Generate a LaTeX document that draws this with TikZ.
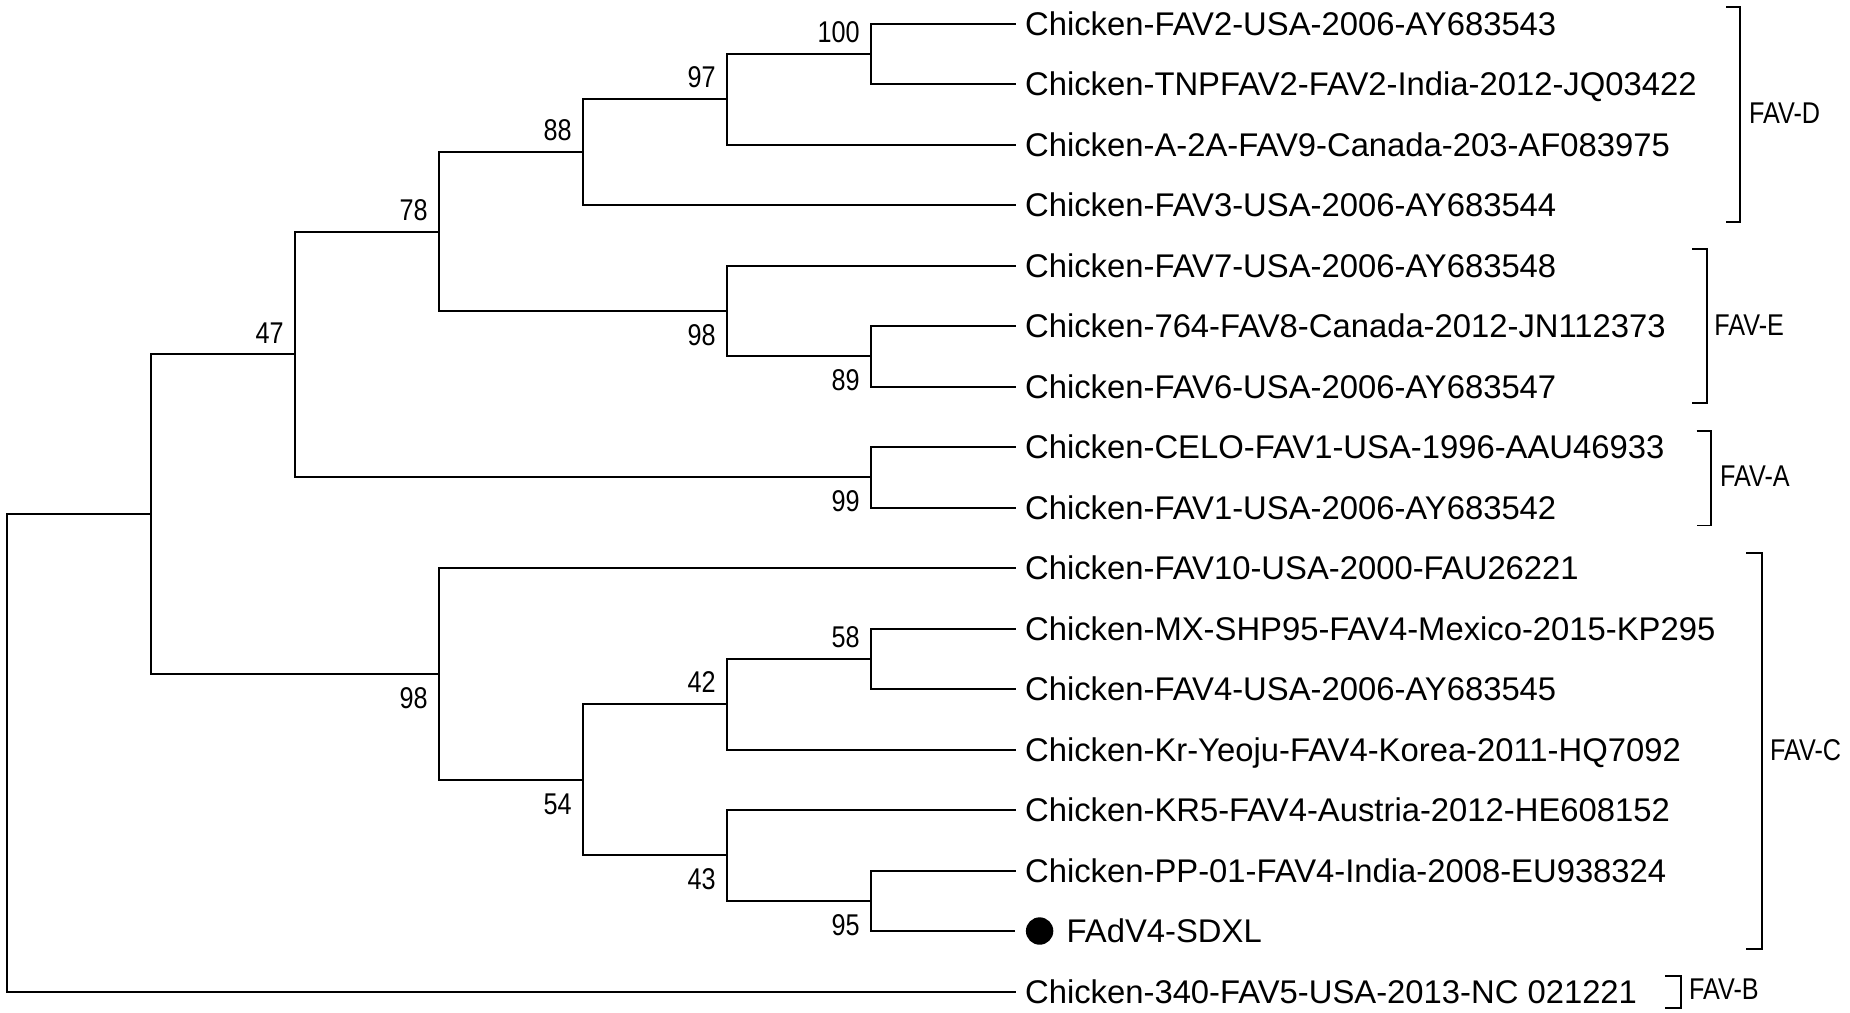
\documentclass[tikz,border=0pt]{standalone}
\usepackage{fontspec}
\setmainfont{Liberation Sans}
\newfontfamily\bootfont[FakeStretch=0.84]{Liberation Sans}
\usetikzlibrary{positioning}

\begin{document}
\begin{tikzpicture}[x=0.5pt, y=-0.5pt,
		branch/.style={line width=1pt},
		brack/.style={line width=0.9pt},
		taxon/.style={anchor=west, inner xsep=4.6pt, inner ysep=0pt, text height=11.7pt, text depth=0pt, font=\fontsize{16.4}{19}\selectfont},
		boot/.style={inner sep=0pt, text height=10.7pt, text depth=0pt, font=\bootfont\fontsize{15}{18}\selectfont},
		clade/.style={boot, anchor=west},
		dot/.style={circle, fill=black, inner sep=0pt, minimum size=13.7pt}]
	\useasboundingbox (0,0) rectangle (1850,1012);
	\fill[white] (0,0) rectangle (1850,1012);

	\node[taxon] (t1) at (1015.5,23.5) {Chicken-FAV2-USA-2006-AY683543};
	\node[taxon] (t2) at (1015.5,84) {Chicken-TNPFAV2-FAV2-India-2012-JQ03422};
	\node[taxon] (t3) at (1015.5,144.5) {Chicken-A-2A-FAV9-Canada-203-AF083975};
	\node[taxon] (t4) at (1015.5,205) {Chicken-FAV3-USA-2006-AY683544};
	\node[taxon] (t5) at (1015.5,265.5) {Chicken-FAV7-USA-2006-AY683548};
	\node[taxon] (t6) at (1015.5,326) {Chicken-764-FAV8-Canada-2012-JN112373};
	\node[taxon] (t7) at (1015.5,386.5) {Chicken-FAV6-USA-2006-AY683547};
	\node[taxon] (t8) at (1015.5,447) {Chicken-CELO-FAV1-USA-1996-AAU46933};
	\node[taxon] (t9) at (1015.5,507.5) {Chicken-FAV1-USA-2006-AY683542};
	\node[taxon] (t10) at (1015.5,568) {Chicken-FAV10-USA-2000-FAU26221};
	\node[taxon] (t11) at (1015.5,628.5) {Chicken-MX-SHP95-FAV4-Mexico-2015-KP295};
	\node[taxon] (t12) at (1015.5,689) {Chicken-FAV4-USA-2006-AY683545};
	\node[taxon] (t13) at (1015.5,749.5) {Chicken-Kr-Yeoju-FAV4-Korea-2011-HQ7092};
	\node[taxon] (t14) at (1015.5,810) {Chicken-KR5-FAV4-Austria-2012-HE608152};
	\node[taxon] (t15) at (1015.5,870.5) {Chicken-PP-01-FAV4-India-2008-EU938324};
	\node[taxon] (t16) at (1057.1,931) {FAdV4-SDXL};
	\node[dot, left=1.7pt of t16] (mark) {};
	\node[taxon] (t17) at (1015.5,991.5) {Chicken-340-FAV5-USA-2013-NC 021221};

	\coordinate (root) at (6.5,752.8);
	\coordinate (nin) at (150.5,514.1);
	\coordinate (n47) at (294.5,354.4);
	\coordinate (n78) at (438.5,231.5);
	\coordinate (n88) at (582.5,152.1);
	\coordinate (n97) at (726.5,99.1);
	\coordinate (n100) at (870.5,53.8);
	\coordinate (n98e) at (726.5,310.9);
	\coordinate (n89) at (870.5,356.3);
	\coordinate (n99) at (870.5,477.3);
	\coordinate (n98c) at (438.5,673.9);
	\coordinate (n54) at (582.5,779.8);
	\coordinate (n42) at (726.5,704.1);
	\coordinate (n58) at (870.5,658.8);
	\coordinate (n43) at (726.5,855.4);
	\coordinate (n95) at (870.5,900.8);

	\draw[branch] (root) |- (nin);
	\draw[branch] (root) |- (t17);
	\draw[branch] (nin) |- (n47);
	\draw[branch] (nin) |- (n98c);
	\draw[branch] (n47) |- (n78);
	\draw[branch] (n47) |- (n99);
	\draw[branch] (n78) |- (n88);
	\draw[branch] (n78) |- (n98e);
	\draw[branch] (n88) |- (n97);
	\draw[branch] (n88) |- (t4);
	\draw[branch] (n97) |- (n100);
	\draw[branch] (n97) |- (t3);
	\draw[branch] (n100) |- (t1);
	\draw[branch] (n100) |- (t2);
	\draw[branch] (n98e) |- (t5);
	\draw[branch] (n98e) |- (n89);
	\draw[branch] (n89) |- (t6);
	\draw[branch] (n89) |- (t7);
	\draw[branch] (n99) |- (t8);
	\draw[branch] (n99) |- (t9);
	\draw[branch] (n98c) |- (t10);
	\draw[branch] (n98c) |- (n54);
	\draw[branch] (n54) |- (n42);
	\draw[branch] (n54) |- (n43);
	\draw[branch] (n42) |- (n58);
	\draw[branch] (n42) |- (t13);
	\draw[branch] (n58) |- (t11);
	\draw[branch] (n58) |- (t12);
	\draw[branch] (n43) |- (t14);
	\draw[branch] (n43) |- (n95);
	\draw[branch] (n95) |- (t15);
	\draw[branch, shorten >=5.4pt] (n95) |- (mark);

	\node[boot, above left=5.5pt and 5.25pt of n100] (b100) {100};
	\node[boot, above left=5.5pt and 5.25pt of n97] (b97) {97};
	\node[boot, above left=5.5pt and 5.25pt of n88] (b88) {88};
	\node[boot, above left=5.5pt and 5.25pt of n78] (b78) {78};
	\node[boot, above left=5.5pt and 5.25pt of n47] (b47) {47};
	\node[boot, above left=5.5pt and 5.25pt of n58] (b58) {58};
	\node[boot, above left=5.5pt and 5.25pt of n42] (b42) {42};
	\node[boot, below left=6.2pt and 5.25pt of n98e] (b98e) {98};
	\node[boot, below left=6.2pt and 5.25pt of n89] (b89) {89};
	\node[boot, below left=6.2pt and 5.25pt of n99] (b99) {99};
	\node[boot, below left=6.2pt and 5.25pt of n98c] (b98c) {98};
	\node[boot, below left=6.2pt and 5.25pt of n54] (b54) {54};
	\node[boot, below left=6.2pt and 5.25pt of n43] (b43) {43};
	\node[boot, below left=6.2pt and 5.25pt of n95] (b95) {95};

	\draw[brack] (1726,6.7) -- (1740,6.7) -- (1740,221.7) -- (1726,221.7);
	\node[clade] (favd) at (1748.7,112.5) {FAV-D};
	\draw[brack] (1692,249.3) -- (1706.7,249.3) -- (1706.7,403.3) -- (1692,403.3);
	\node[clade] (fave) at (1714,325) {FAV-E};
	\draw[brack] (1696.7,431) -- (1710.6,431) -- (1710.6,525.4) -- (1696.7,525.4);
	\node[clade] (fava) at (1719.7,476) {FAV-A};
	\draw[brack] (1746,552.7) -- (1761.7,552.7) -- (1761.7,949) -- (1746,949);
	\node[clade] (favc) at (1769.7,750) {FAV-C};
	\draw[brack] (1665,976) -- (1680.7,976) -- (1680.7,1008) -- (1665,1008);
	\node[clade] (favb) at (1688.7,989) {FAV-B};
\end{tikzpicture}
\end{document}
